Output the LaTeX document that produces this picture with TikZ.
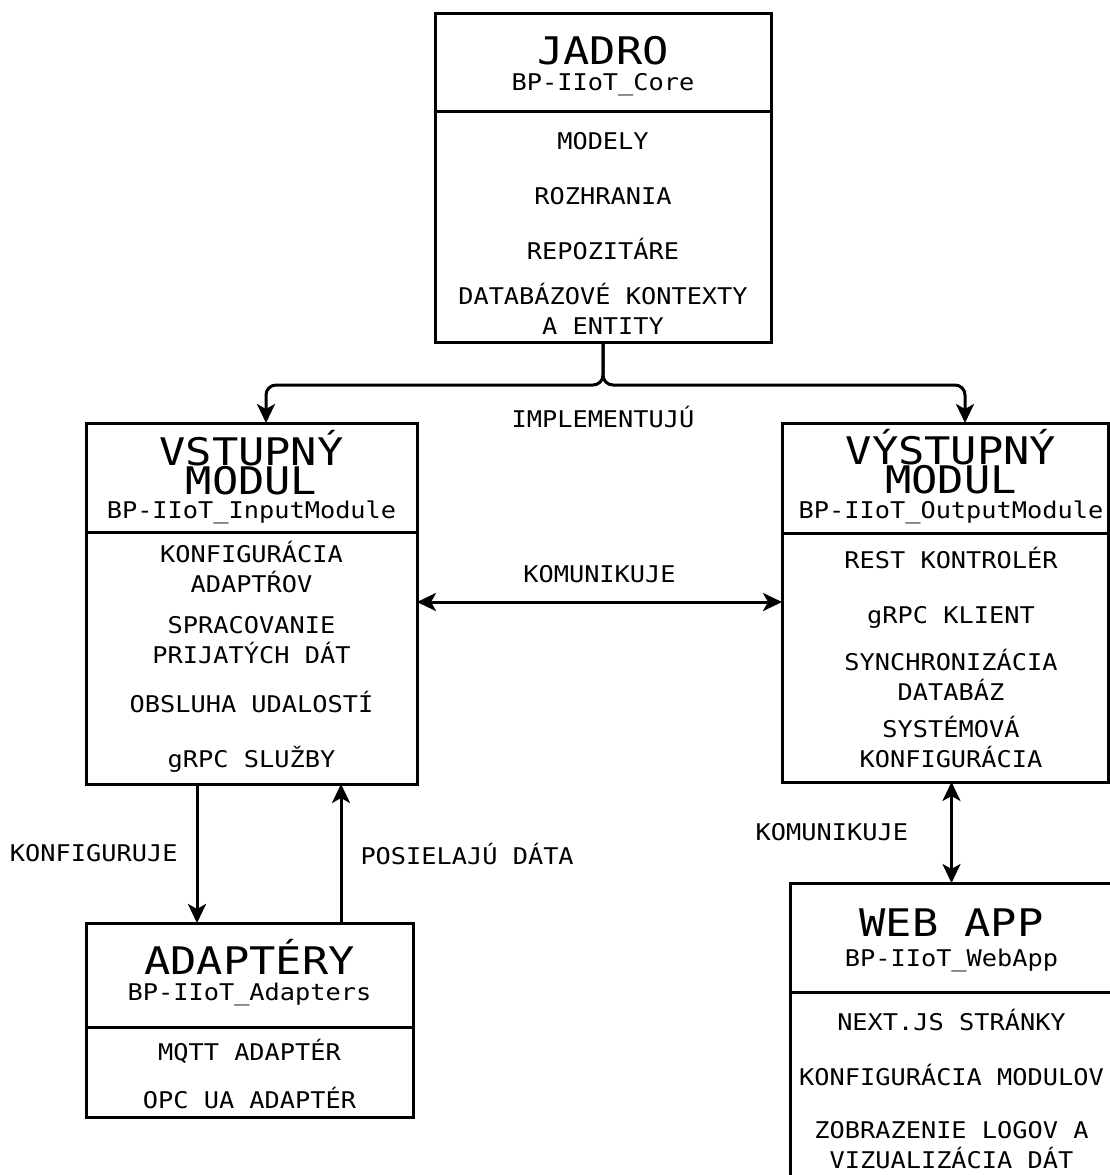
\documentclass[tikz,border=0pt]{standalone}
\usepackage{fontspec}
\setmainfont[FakeStretch=1.15]{DejaVu Sans Mono}
\newfontfamily\itemfont[FakeStretch=1.1]{DejaVu Sans Mono}
\usetikzlibrary{positioning, arrows.meta}

\tikzset{
  modbox/.style={draw, line width=1.5pt, inner sep=0pt, outer sep=0pt},
  boxtitle/.style={anchor=base, inner sep=0pt, align=center, font=\fontsize{19}{14.5}\selectfont},
  boxsub/.style={anchor=base, inner sep=0pt, font=\itemfont\fontsize{11.5}{14}\selectfont},
  boxitem/.style={anchor=base, inner sep=0pt, align=center, font=\itemfont\fontsize{11.5}{15}\selectfont},
  edgelabel/.style={inner sep=0pt, font=\itemfont\fontsize{11.5}{14}\selectfont},
  divider/.style={line width=1.5pt},
  link/.style={line width=1.5pt, -{Stealth[length=9.5pt, width=9pt, inset=2.5pt]}},
  dlink/.style={line width=1.5pt, {Stealth[length=9.5pt, width=9pt, inset=2.5pt]}-{Stealth[length=9.5pt, width=9pt, inset=2.5pt]}},
}

\begin{document}
\begin{tikzpicture}[x=0.5pt, y=-0.5pt]
  \useasboundingbox (0,0) rectangle (1110,1175);
  \clip (0,0) rectangle (1110,1175);

  % jadro
  \node[modbox, minimum width=168pt, minimum height=164.5pt] (core) at (603,177.5) {};
  \draw[divider] (core.north west) ++(0,98) -- ++(336,0);
  \node[boxtitle] (coreT) at (603,64) {JADRO};
  \node[boxsub] (coreS) at (603,90) {BP-IIoT\_Core};
  \node[boxitem] (core1) at (603,149) {MODELY};
  \node[boxitem] (core2) at (603,204) {ROZHRANIA};
  \node[boxitem] (core3) at (603,259) {REPOZITÁRE};
  \node[boxitem] (core4) at (603,334) {DATABÁZOVÉ KONTEXTY\\A ENTITY};

  % vstupny modul
  \node[modbox, minimum width=165.5pt, minimum height=180.5pt] (inm) at (251.5,603.5) {};
  \draw[divider] (inm.north west) ++(0,109) -- ++(331,0);
  \node[boxtitle] (inmT) at (251.5,494) {VSTUPNÝ\\MODUL};
  \node[boxsub] (inmS) at (251.5,518) {BP-IIoT\_InputModule};
  \node[boxitem] (inm1) at (251.5,592) {KONFIGURÁCIA\\ADAPTŔOV};
  \node[boxitem] (inm2) at (251.5,663) {SPRACOVANIE\\PRIJATÝCH DÁT};
  \node[boxitem] (inm3) at (251.5,712) {OBSLUHA UDALOSTÍ};
  \node[boxitem] (inm4) at (251.5,767) {gRPC SLUŽBY};

  % vystupny modul
  \node[modbox, minimum width=163pt, minimum height=179.5pt] (outm) at (945,602.5) {};
  \draw[divider] (outm.north west) ++(0,110) -- ++(326,0);
  \node[boxtitle] (outmT) at (951,493) {VÝSTUPNÝ\\MODUL};
  \node[boxsub] (outmS) at (951,518) {BP-IIoT\_OutputModule};
  \node[boxitem] (outm1) at (951,568) {REST KONTROLÉR};
  \node[boxitem] (outm2) at (951,623) {gRPC KLIENT};
  \node[boxitem] (outm3) at (951,700) {SYNCHRONIZÁCIA\\DATABÁZ};
  \node[boxitem] (outm4) at (951,767) {SYSTÉMOVÁ\\KONFIGURÁCIA};

  % adaptery
  \node[modbox, minimum width=163.5pt, minimum height=97pt] (adp) at (249.5,1020) {};
  \draw[divider] (adp.north west) ++(0,104) -- ++(327,0);
  \node[boxtitle] (adpT) at (249.5,974) {ADAPTÉRY};
  \node[boxsub] (adpS) at (249.5,1000) {BP-IIoT\_Adapters};
  \node[boxitem] (adp1) at (249.5,1060) {MQTT ADAPTÉR};
  \node[boxitem] (adp2) at (249.5,1108) {OPC UA ADAPTÉR};

  % web app
  \node[modbox, minimum width=161.5pt, minimum height=156pt] (web) at (951.5,1039) {};
  \draw[divider] (web.north west) ++(0,109) -- ++(323,0);
  \node[boxtitle] (webT) at (951.5,936) {WEB APP};
  \node[boxsub] (webS) at (951.5,966) {BP-IIoT\_WebApp};
  \node[boxitem] (web1) at (951.5,1030) {NEXT.JS STRÁNKY};
  \node[boxitem] (web2) at (951.5,1085) {KONFIGURÁCIA MODULOV};
  \node[boxitem] (web3) at (951.5,1168) {ZOBRAZENIE LOGOV A\\VIZUALIZÁCIA DÁT};

  % spojenia
  \draw[link, rounded corners=5pt] (core.south) -- ++(0,43) -| ([xshift=7.25pt]inm.north);
  \draw[link, rounded corners=5pt] (core.south) -- ++(0,43) -| ([xshift=10pt]outm.north);
  \node[edgelabel, anchor=base] (impl) at (603,427) {IMPLEMENTUJÚ};

  \draw[dlink] (inm.east |- 0,602) -- node[edgelabel, midway, above=9pt] (kom1) {KOMUNIKUJE} (outm.west |- 0,602);
  \draw[link] ([xshift=-27.25pt]inm.south) -- node[edgelabel, midway, left=9pt] (konf) {KONFIGURUJE} ([xshift=-27.25pt]inm.south |- adp.north);
  \draw[link] ([xshift=45.75pt]adp.north) -- node[edgelabel, midway, right=9pt] (posl) {POSIELAJÚ DÁTA} ([xshift=45.75pt]adp.north |- inm.south);
  \draw[dlink] (web.north |- outm.south) -- node[edgelabel, midway, left=21pt] (kom2) {KOMUNIKUJE} (web.north);
\end{tikzpicture}
\end{document}
